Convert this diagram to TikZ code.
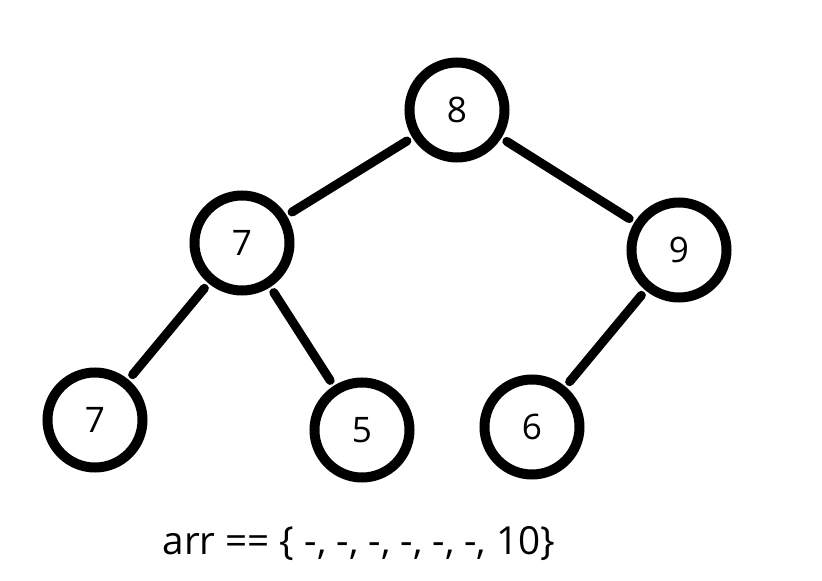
\documentclass[tikz,border=0pt]{standalone}
\usepackage{fontspec}
\setmainfont{Open Sans}
\usetikzlibrary{positioning}

\begin{document}
\begin{tikzpicture}[
        on grid,
        heapnode/.style={circle, draw, line width=0.25cm, minimum size=2.375cm, inner sep=0pt, font=\fontsize{25}{29}\selectfont},
        link/.style={line width=0.225cm, line cap=round, shorten <=0.16cm, shorten >=0.16cm},
    ]
        \useasboundingbox (-11.425,2.75) rectangle (9.125,-11.775);

        % Level 1
        \node[heapnode] (root) at (0,0) {8};

        % Level 2
        \node[heapnode, below left=3.325cm and 5.375cm of root] (left) {7};
        \node[heapnode, below right=3.5cm and 5.55cm of root] (right) {9};

        % Level 3
        \node[heapnode, below left=4.425cm and 3.675cm of left] (ll) {7};
        \node[heapnode, below right=4.675cm and 3.0cm of left] (lr) {5};
        \node[heapnode, below left=4.425cm and 3.675cm of right] (rl) {6};

        % Array
        \node[below=2.85cm of lr, xshift=-0.075cm, font=\fontsize{27.5}{32}\selectfont] (arr) {arr == \{ -, -, -, -, -, -, 10\}};

        % Links
        \draw[link] (root) -- (left);
        \draw[link] (root) -- (right);
        \draw[link] (left) -- (ll);
        \draw[link] (left) -- (lr);
        \draw[link] (right) -- (rl);
    \end{tikzpicture}
\end{document}
